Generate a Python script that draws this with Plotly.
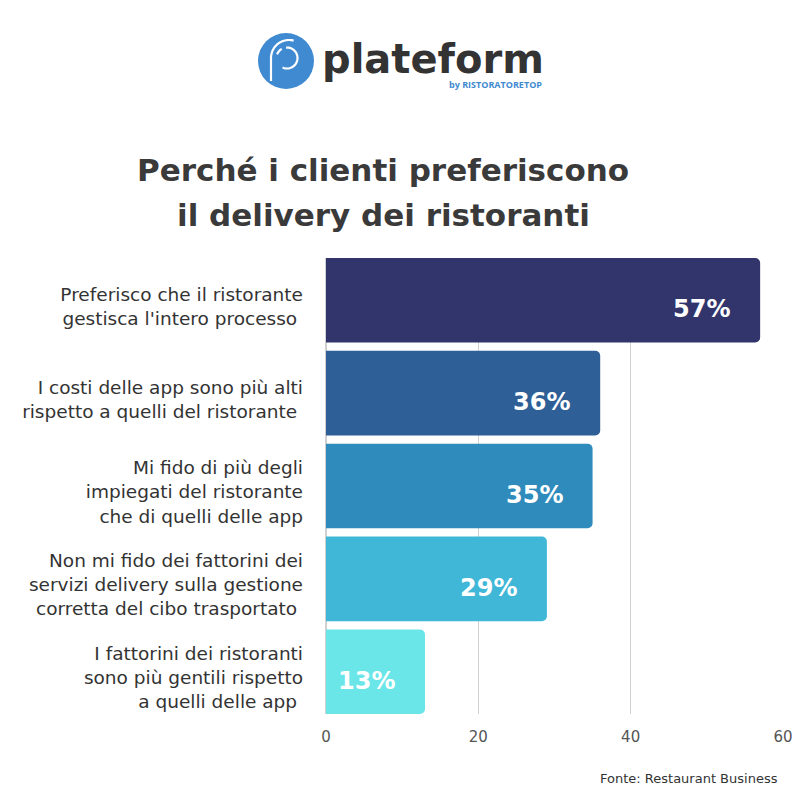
import math
import plotly.graph_objects as go

categories = [
    "Preferisco che il ristorante<br>gestisca l'intero processo ",
    "I costi delle app sono più alti<br>rispetto a quelli del ristorante ",
    "Mi fido di più degli<br>impiegati del ristorante<br>che di quelli delle app",
    "Non mi fido dei fattorini dei<br>servizi delivery sulla gestione<br>corretta del cibo trasportato ",
    "I fattorini dei ristoranti<br>sono più gentili rispetto<br>a quelli delle app ",
]
values = [57, 36, 35, 29, 13]
value_labels = ["57%", "36%", "35%", "29%", "13%"]
bar_colors = ["#31356b", "#2e5f97", "#2e8bbc", "#40b7d7", "#6ae5e8"]
tick_vals = [0, 20, 40, 60]

FONT = "DejaVu Sans"

fig = go.Figure()
fig.add_trace(go.Bar(
    y=categories, x=values, orientation="h",
    marker=dict(color=bar_colors, line=dict(width=0), cornerradius=5),
    width=0.91, hoverinfo="skip",
))

for c, v, t in zip(categories, values, value_labels):
    fig.add_annotation(x=v, y=c, xref="x", yref="y", text=f"<b>{t}</b>",
                       showarrow=False, xanchor="right", xshift=-28, yshift=-9,
                       font=dict(family=FONT, size=24, color="white"))

L, T, W, H = 326, 258, 457, 456
def px(x):
    return (x - L) / W
def py(y):
    return (T + H - y) / H

def arc_path(cx, cy, r, a0, a1, n=30):
    pts = []
    for i in range(n + 1):
        a = math.radians(a0 + (a1 - a0) * i / n)
        pts.append((px(cx + r * math.cos(a)), py(cy - r * math.sin(a))))
    return "M " + " L ".join(f"{x:.5f},{y:.5f}" for x, y in pts)

# Logo circle
fig.add_shape(type="circle", xref="paper", yref="paper",
              x0=px(258), x1=px(314), y0=py(89), y1=py(33),
              fillcolor="#3f8ad0", line=dict(width=0), layer="above")
# inner "p" strokes
fig.add_shape(type="path", xref="paper", yref="paper",
              path=arc_path(289, 58, 18, 180, 75),
              line=dict(color="white", width=2.2), layer="above")
fig.add_shape(type="line", xref="paper", yref="paper",
              x0=px(271), x1=px(271), y0=py(58), y1=py(81),
              line=dict(color="white", width=2.2), layer="above")
fig.add_shape(type="path", xref="paper", yref="paper",
              path=arc_path(287, 58, 10.5, 95, -115),
              line=dict(color="white", width=2.2), layer="above")
fig.add_shape(type="path", xref="paper", yref="paper",
              path=arc_path(287, 58, 10.5, 160, 120, n=8),
              line=dict(color="white", width=2.2), layer="above")

fig.add_annotation(xref="paper", yref="paper", x=px(320), y=py(59), text="<b>plateform</b>",
                   showarrow=False, xanchor="left", yanchor="middle",
                   font=dict(family=FONT, size=40, color="#333333"))
fig.add_annotation(xref="paper", yref="paper", x=px(544), y=py(84), text="<b>by RISTORATORETOP</b>",
                   showarrow=False, xanchor="right", yanchor="middle",
                   font=dict(family="Open Sans", size=9, color="#3f8ad0"))

# Title
fig.add_annotation(xref="paper", yref="paper", x=px(383), y=py(170),
                   text="<b>Perché i clienti preferiscono</b>", showarrow=False,
                   xanchor="center", yanchor="middle",
                   font=dict(family=FONT, size=31, color="#3a3a3a"))
fig.add_annotation(xref="paper", yref="paper", x=px(383), y=py(215),
                   text="<b>il delivery dei ristoranti</b>", showarrow=False,
                   xanchor="center", yanchor="middle",
                   font=dict(family=FONT, size=31, color="#3a3a3a"))

# Source
fig.add_annotation(xref="paper", yref="paper", x=px(780), y=py(778),
                   text="Fonte: Restaurant Business", showarrow=False,
                   xanchor="right", yanchor="middle",
                   font=dict(family=FONT, size=13, color="#333333"))

fig.update_layout(
    width=800, height=800,
    margin=dict(l=L, r=800 - L - W, t=T, b=800 - T - H, autoexpand=False),
    paper_bgcolor="white", plot_bgcolor="white",
    showlegend=False, bargap=0.09,
    xaxis=dict(range=[0, 60], tickvals=tick_vals, showgrid=True, automargin=False,
               gridcolor="#d0d0d0", gridwidth=1, zeroline=True, zerolinecolor="#d0d0d0",
               tickfont=dict(family=FONT, size=15, color="#555555"),
               showline=False, ticks="", ticklabelstandoff=12),
    yaxis=dict(range=[4.455, -0.455], showgrid=False, showline=False, ticks="",
               automargin=False,
               tickfont=dict(family=FONT, size=18.5, color="#333333"),
               ticklabelstandoff=22, ticklabelshift=-6),
)

fig.write_html("out.html", config={"displayModeBar": False})
with open("out.html", "r", encoding="utf-8") as f:
    html = f.read()
html = html.replace("<head>", "<head><style>html,body{margin:0;padding:0;overflow:hidden;}</style>", 1)
with open("out.html", "w", encoding="utf-8") as f:
    f.write(html)
